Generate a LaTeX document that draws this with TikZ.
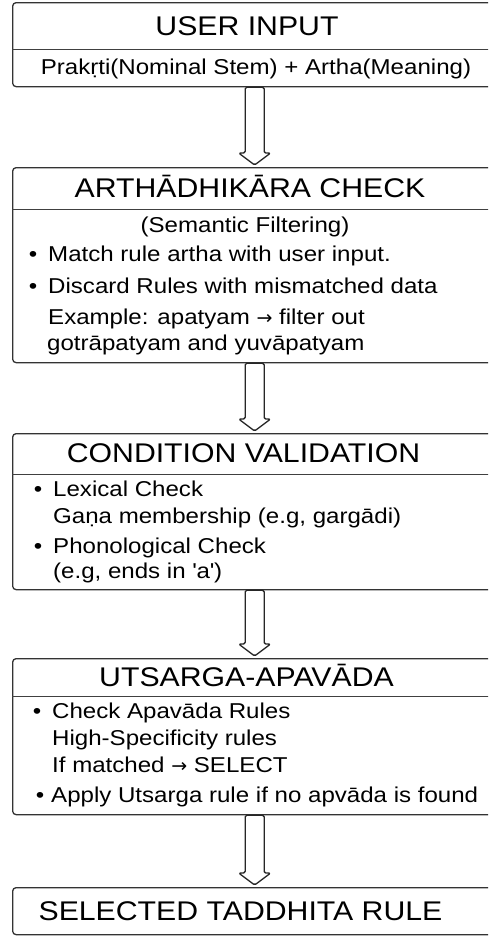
\documentclass[tikz,border=0pt]{standalone}
\usepackage{fontspec}
\setmainfont{Liberation Sans}[FakeStretch=1.12]
\newfontfamily\arrowfont{DejaVu Sans}
\usetikzlibrary{calc}
\newcommand\flowarrow[2]{%
  \draw[blockarrow] let \p1=(#1.south), \p2=(#2.north) in
    (\x1-9.5,\y1) -- (\x1-9.5,\y2+14) -- (\x1-16,\y2+14) -- (\x1,\y2+2)
    -- (\x1+16,\y2+14) -- (\x1+9.5,\y2+14) -- (\x1+9.5,\y1) -- cycle;}
\newcommand\rarr{{\arrowfont\fontsize{19}{19}\selectfont →}}
\begin{document}
\begin{tikzpicture}[x=1pt,y=-1pt,
  box/.style={draw=black!80, line width=1.3pt, rounded corners=3.5pt, fill=white,
    anchor=north west, minimum width=484pt, inner sep=0pt},
  divider/.style={draw=black!75, line width=1pt},
  ttl/.style={font=\fontsize{27}{27}\selectfont, anchor=base, inner sep=0pt, text=black},
  txt/.style={font=\fontsize{21.5}{21.5}\selectfont, anchor=base west, inner sep=0pt, text=black},
  ctxt/.style={txt, anchor=base},
  dot/.style={font=\fontsize{21.5}{21.5}\selectfont, anchor=base, inner sep=0pt, text=black},
  blockarrow/.style={draw=black!85, line width=1.3pt, fill=white, rounded corners=1.5pt, line join=round}
]
\useasboundingbox (0,0) rectangle (488,938);
\clip (0,0) rectangle (488,938);
\fill[white] (0,0) rectangle (488,938);

% boxes
\node[box, minimum height=84pt]  (b1) at (12,2) {};
\node[box, minimum height=195pt] (b2) at (12,167) {};
\node[box, minimum height=156pt] (b3) at (12,433) {};
\node[box, minimum height=156pt] (b4) at (12,658) {};
\node[box, minimum height=47pt]  (b5) at (12,887) {};

% dividers
\draw[divider] (12,49) -- (496,49);
\draw[divider] (12,209) -- (496,209);
\draw[divider] (12,474) -- (496,474);
\draw[divider] (12,696) -- (496,696);

% arrows
\flowarrow{b1}{b2}
\flowarrow{b2}{b3}
\flowarrow{b3}{b4}
\flowarrow{b4}{b5}

% box 1
\node[ttl] (t1) at (247,35) {USER INPUT};
\node[ctxt] (l11) at (256,74) {Prakṛti(Nominal Stem) + Artha(Meaning)};

% box 2
\node[ttl] (t2) at (250,197) {ARTHĀDHIKĀRA CHECK};
\node[ctxt] (l21) at (245,232) {(Semantic Filtering)};
\node[dot] (d21) at (33,261) {•};
\node[txt] (l22) at (48,261) {Match rule artha with user input.};
\node[dot] (d22) at (33,293) {•};
\node[txt] (l23) at (48,293) {Discard Rules with mismatched data};
\node[txt] (l24) at (48,324) {Example: apatyam \rarr{} filter out};
\node[txt] (l25) at (47,350) {gotrāpatyam and yuvāpatyam};

% box 3
\node[ttl] (t3) at (243.5,462) {CONDITION VALIDATION};
\node[dot] (d31) at (38,496) {•};
\node[txt] (l31) at (53,496) {Lexical Check};
\node[txt] (l32) at (53,523) {Gaṇa membership (e.g, gargādi)};
\node[dot] (d32) at (38,553) {•};
\node[txt] (l33) at (53,553) {Phonological Check};
\node[txt] (l34) at (53,578) {(e.g, ends in \textquotesingle a\textquotesingle)};

% box 4
\node[ttl] (t4) at (246.5,686) {UTSARGA-APAVĀDA};
\node[dot] (d41) at (37,718) {•};
\node[txt] (l41) at (52,718) {Check Apavāda Rules};
\node[txt] (l42) at (52,745) {High-Specificity rules};
\node[txt] (l43) at (52,772) {If matched \rarr{} SELECT};
\node[dot] (d42) at (40,802) {•};
\node[txt] (l44) at (51,802) {Apply Utsarga rule if no apvāda is found};

% box 5
\node[ttl] (t5) at (240.5,920) {SELECTED TADDHITA RULE};
\end{tikzpicture}
\end{document}
